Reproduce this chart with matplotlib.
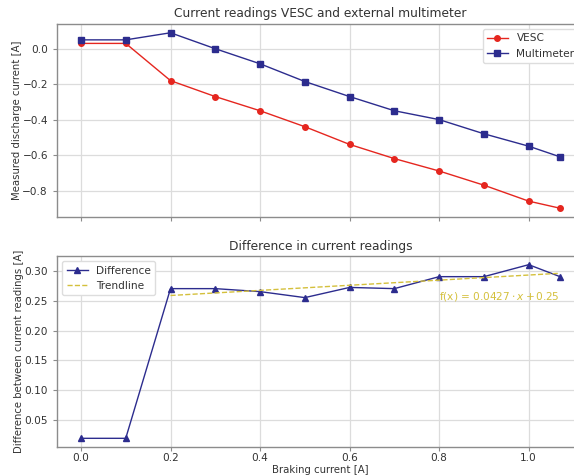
import numpy as np
import matplotlib
matplotlib.use("Agg")
import matplotlib.pyplot as plt

braking = [0.0, 0.1, 0.2, 0.3, 0.4, 0.5, 0.6, 0.7, 0.8, 0.9, 1.0, 1.07]
vesc = [0.03, 0.03, -0.18, -0.27, -0.35, -0.44, -0.54, -0.62, -0.69, -0.77, -0.86, -0.90]
multimeter = [0.05, 0.05, 0.09, 0.0, -0.085, -0.185, -0.27, -0.35, -0.40, -0.48, -0.55, -0.61]
difference = [0.02, 0.02, 0.27, 0.27, 0.265, 0.255, 0.272, 0.27, 0.29, 0.29, 0.31, 0.29]
trend_slope = 0.0427
trend_icept = 0.25

red = '#e5261f'
navy = '#2c2c8e'
gold = '#d4c03c'
txt = '#333333'

plt.rcParams['font.family'] = ['DejaVu Sans']
plt.rcParams['axes.edgecolor'] = '#8c8c8c'
plt.rcParams['axes.linewidth'] = 1.0
plt.rcParams['grid.color'] = '#dcdcdc'
plt.rcParams['grid.linewidth'] = 0.9
plt.rcParams['xtick.color'] = '#8c8c8c'
plt.rcParams['ytick.color'] = '#8c8c8c'
plt.rcParams['xtick.labelcolor'] = txt
plt.rcParams['ytick.labelcolor'] = txt
plt.rcParams['xtick.labelsize'] = 7.6
plt.rcParams['ytick.labelsize'] = 7.6
plt.rcParams['axes.labelsize'] = 7.3
plt.rcParams['axes.labelcolor'] = txt
plt.rcParams['axes.titlesize'] = 8.8
plt.rcParams['axes.titlecolor'] = txt
plt.rcParams['mathtext.fontset'] = 'dejavusans'

fig = plt.figure(figsize=(5.74, 4.76), dpi=100)
ax1 = fig.add_axes([57/574, 1-217/476, (584-57)/574, (217-24)/476])
ax2 = fig.add_axes([57/574, 1-447/476, (584-57)/574, (447-256)/476], sharex=ax1)

ax1.plot(braking, vesc, '-o', color=red, lw=1.0, ms=4, label='VESC')
ax1.plot(braking, multimeter, '-s', color=navy, lw=1.0, ms=4, label='Multimeter')
ax1.set_title('Current readings VESC and external multimeter', pad=5)
ax1.set_ylabel('Measured discharge current [A]', labelpad=0)
ax1.grid(True)
ax1.tick_params(labelbottom=False, length=3)
ax1.tick_params(axis='x', pad=1.5)
ax1.legend(loc='upper right', fontsize=7.6, frameon=True, edgecolor='#dddddd',
           framealpha=1, labelcolor=txt)

tx = np.array(braking[2:])
ax2.plot(braking, difference, '-^', color=navy, lw=1.0, ms=4, label='Difference')
ax2.plot(tx, trend_slope * tx + trend_icept, '--', color=gold, lw=1.0, label='Trendline')
ax2.text(0.8, 0.252, r'f(x) = $0.0427 \cdot x + 0.25$', color=gold, fontsize=7.6)
ax2.set_title('Difference in current readings', pad=4)
ax2.set_ylabel('Difference between current readings [A]', labelpad=0)
ax2.set_xlabel('Braking current [A]', labelpad=1)
ax2.grid(True)
ax2.tick_params(length=3)
ax2.tick_params(axis='x', pad=1.5)
ax2.legend(loc='upper left', fontsize=7.6, frameon=True, edgecolor='#dddddd',
           framealpha=1, labelcolor=txt)

fig.savefig('out.png', dpi=100)
